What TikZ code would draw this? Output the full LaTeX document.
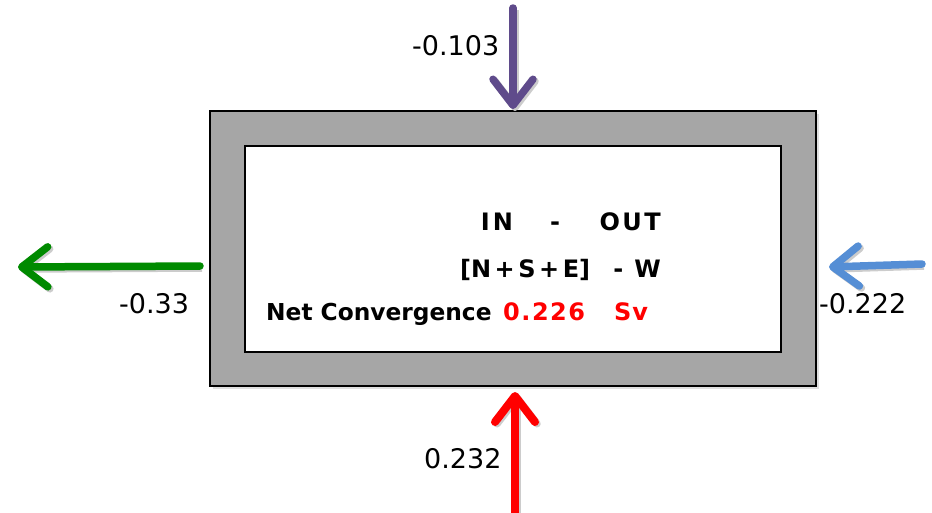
\documentclass[tikz,border=0pt]{standalone}
\usepackage{fontspec}
\setmainfont{DejaVu Sans}
\usetikzlibrary{arrows.meta,shadows}
\definecolor{cpurple}{HTML}{5F4B8B}
\definecolor{cgreen}{HTML}{008A00}
\definecolor{cblue}{HTML}{558ED5}
\definecolor{cred}{HTML}{FF0000}
\definecolor{cgray}{HTML}{A6A6A6}
\tikzset{
  flow/.style={line width=7.5pt, line cap=round,
    -{Straight Barb[length=26pt,width=40pt,round]},
    preaction={draw=black!20, line width=7.5pt, transform canvas={shift={(2pt,-2pt)}}, -{Straight Barb[length=26pt,width=40pt,round]}}},
  val/.style={font=\fontsize{27}{30}\selectfont, inner sep=0pt, anchor=base west},
  btxt/.style={font=\fontsize{24}{27}\selectfont\bfseries, inner sep=0pt},
  frame/.style={draw=black, line width=1.8pt, inner sep=0pt}
}
\begin{document}
\begin{tikzpicture}[x=1pt,y=-1pt]
\useasboundingbox (0,0) rectangle (932,512);
% boxes
\node[frame, fill=cgray, minimum width=606pt, minimum height=275pt,
      drop shadow={opacity=0.25, shadow xshift=3pt, shadow yshift=-3pt}] (outer) at (513,248.5) {};
\node[frame, fill=white, minimum width=536pt, minimum height=206pt] (inner) at (513,249) {};
% coordinates
\coordinate (ptop) at (513,8);
\coordinate (ptopend) at (513,109);
\coordinate (gstart) at (200,266);
\coordinate (gend) at (18,267);
\coordinate (bstart) at (922,264);
\coordinate (bend) at (829,267);
\coordinate (rstart) at (515,515);
\coordinate (rend) at (515,392);
% arrows
\draw[flow, cpurple] (ptop) -- (ptopend);
\draw[flow, cgreen] (gstart) -- (gend);
\draw[flow, cblue] (bstart) -- (bend);
\draw[flow, cred, line width=8pt] (rstart) -- (rend);
% values
\node[val] (vtop) at (412,55) {-0.103};
\node[val] (vleft) at (119,313) {-0.33};
\node[val] (vright) at (819,313) {-0.222};
\node[val] (vbot) at (424,468) {0.232};
% inner text
\node[btxt, anchor=base] (tin) at (497,230) {I\kern3ptN};
\node[btxt, anchor=base] (tdash) at (555,230) {-};
\node[btxt, anchor=base east] (tout) at (661,230) {O\kern2.5ptU\kern2.5ptT};
\node[btxt, anchor=base west] (tnse) at (460,277) {[N\kern3.5pt+\kern3.5ptS\kern3.5pt+\kern3.5ptE]};
\node[btxt, anchor=base east] (tw) at (661,277) {-\kern11ptW};
\node[btxt, anchor=base west, font=\fontsize{23.3}{27}\selectfont\bfseries] (tnet) at (266,320) {Net Convergence};
\node[btxt, anchor=base west, text=cred] (tval) at (503,320) {0\kern1.5pt.\kern1.5pt2\kern1.5pt2\kern1.5pt6};
\node[btxt, anchor=base west, text=cred] (tsv) at (614,320) {S\kern1ptv};
\end{tikzpicture}
\end{document}
